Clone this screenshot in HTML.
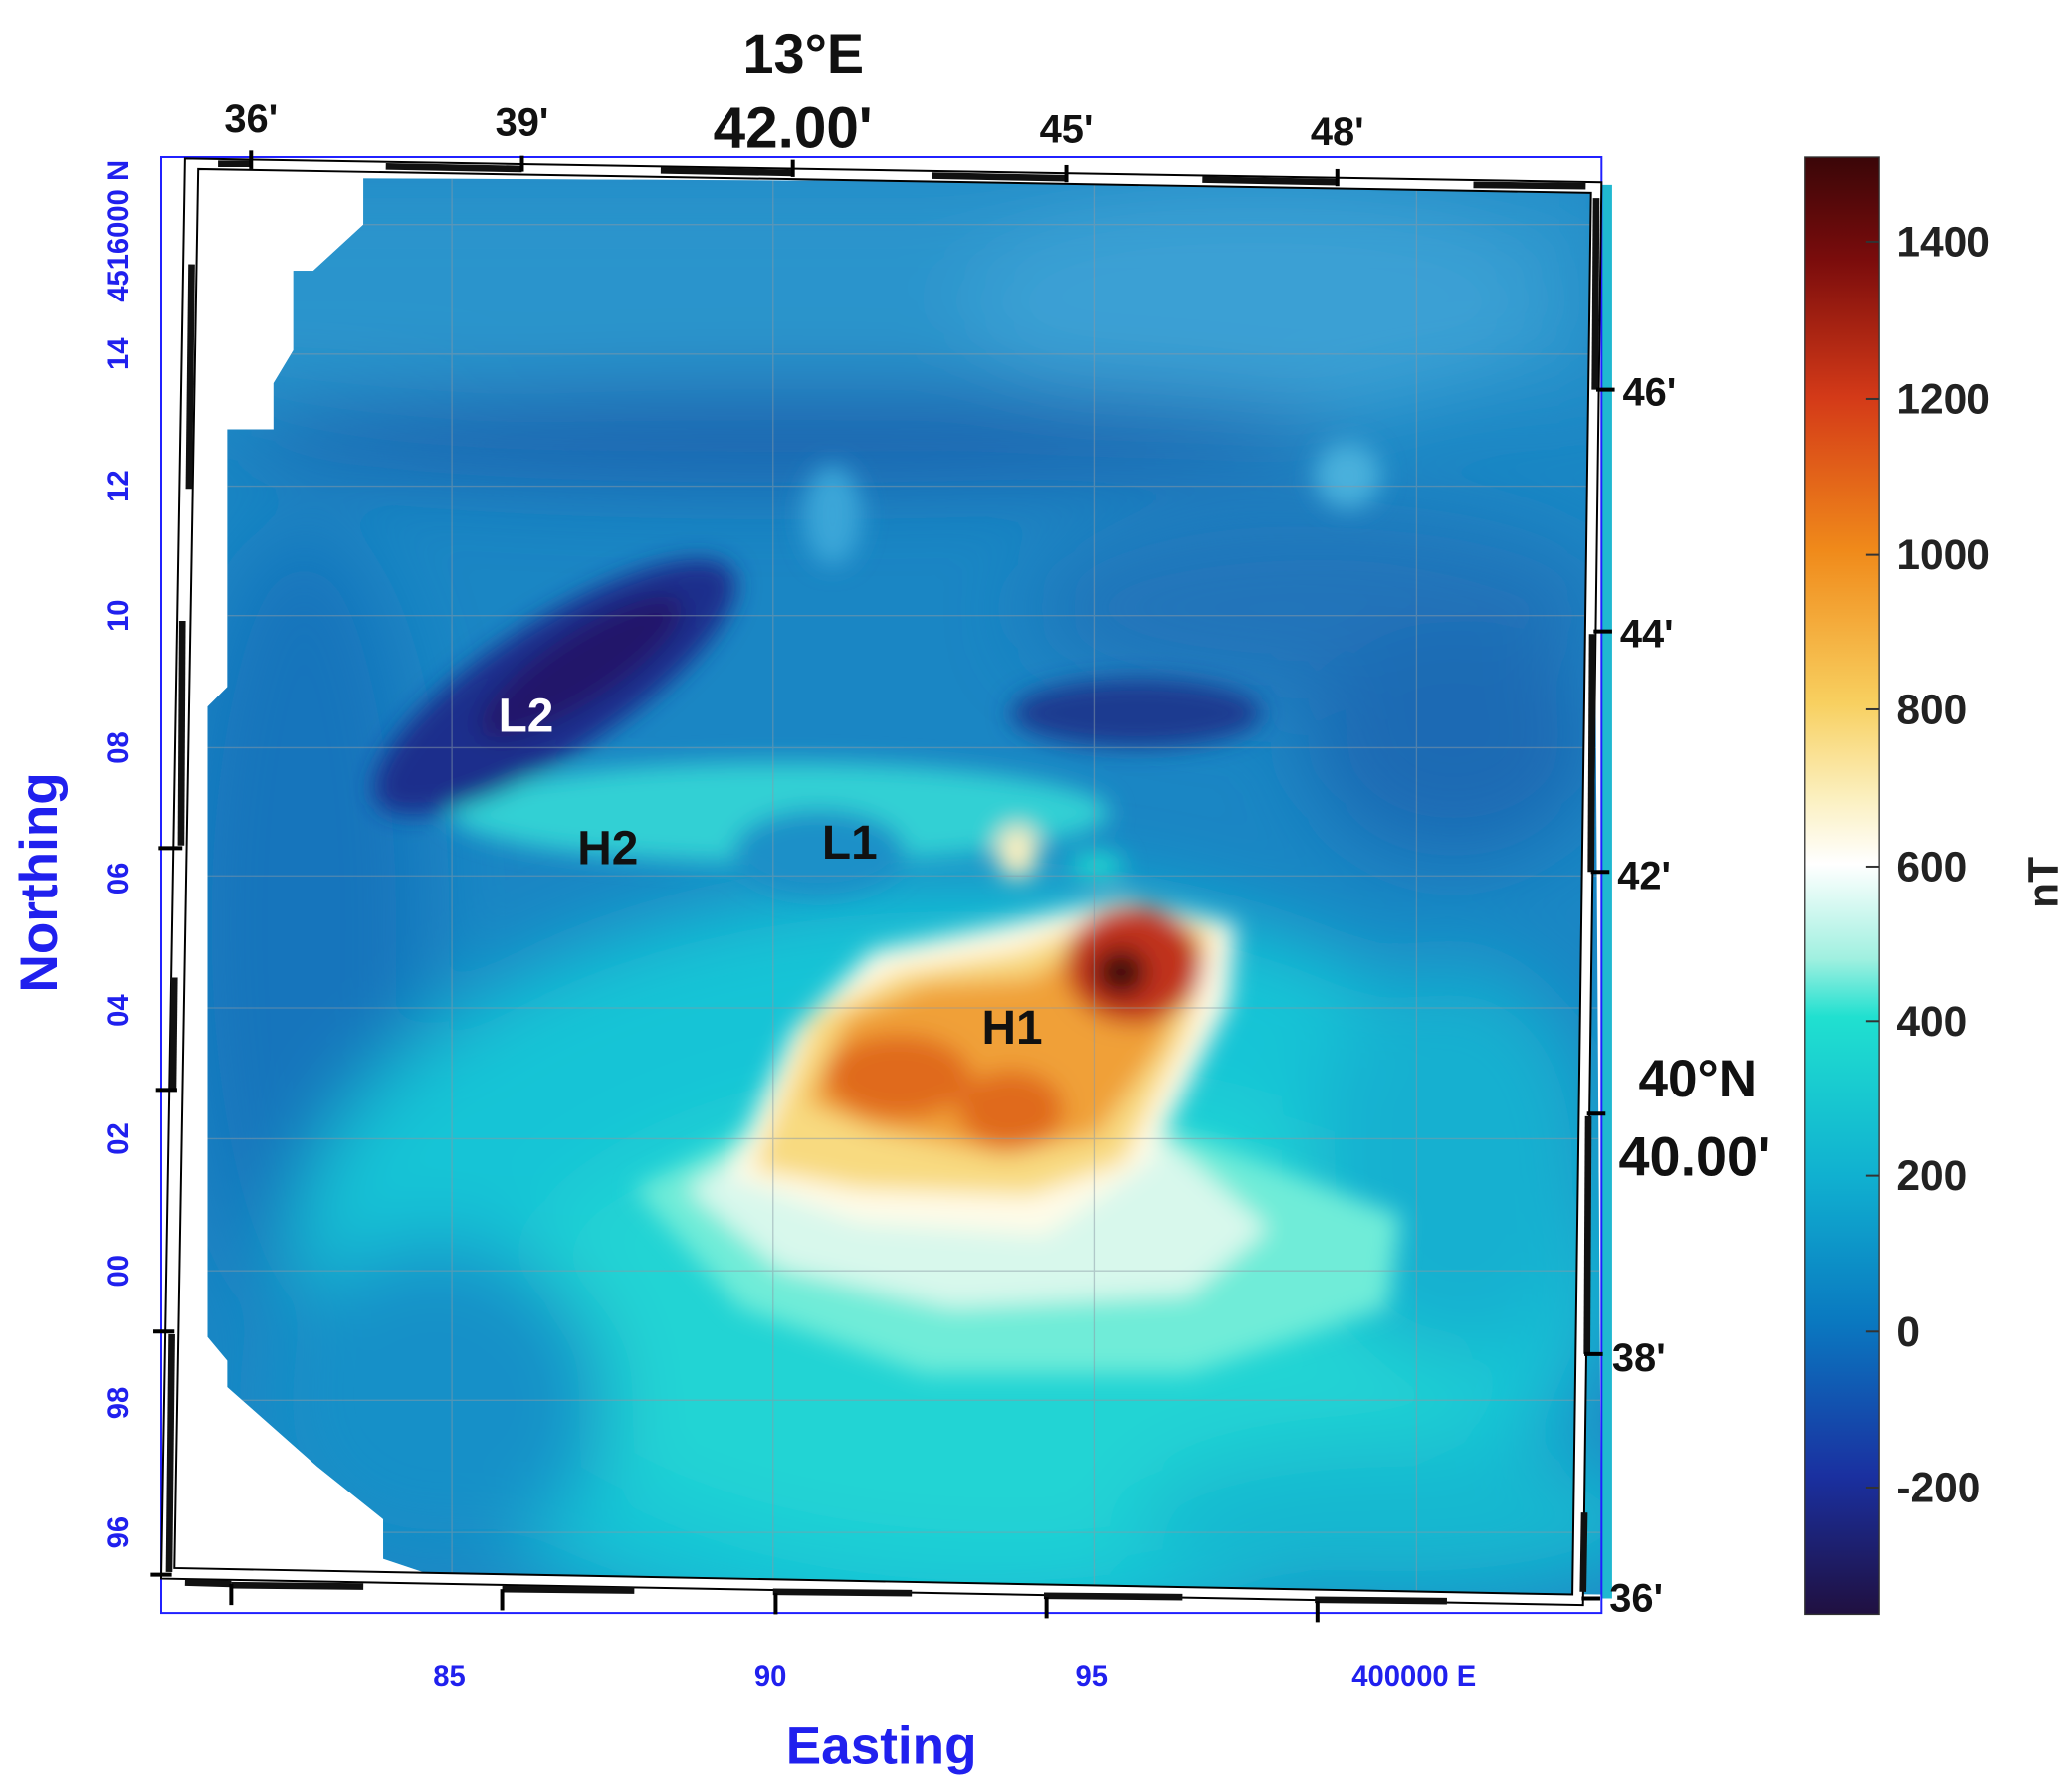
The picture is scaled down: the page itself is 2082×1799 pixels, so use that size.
<!DOCTYPE html>
<html><head><meta charset="utf-8"><style>
html,body{margin:0;padding:0;background:#fff;width:2082px;height:1799px;overflow:hidden}
svg{display:block}
text{font-family:"Liberation Sans",sans-serif}
</style></head><body>
<svg width="2082" height="1799" viewBox="0 0 1568 1355" preserveAspectRatio="none" xmlns="http://www.w3.org/2000/svg">
<defs>
<clipPath id="mc"><path d="M275,135 L1205,140 L1212,1207 L335,1195 L290,1180 L290,1150 L240,1110 L172,1050 L172,1030 L157,1012 L157,800 L157,620 L157,535 L172,520 L172,325 L207,325 L207,290 L222,265 L222,205 L237,205 L275,170 Z"/></clipPath>
<filter id="b2" x="-50%" y="-50%" width="200%" height="200%"><feGaussianBlur stdDeviation="9"/></filter>
<filter id="b3" x="-50%" y="-50%" width="200%" height="200%"><feGaussianBlur stdDeviation="30"/></filter>
<linearGradient id="cb" x1="0" y1="0" x2="0" y2="1">
<stop offset="0" stop-color="#3a0608"/>
<stop offset="0.07" stop-color="#7a0c0c"/>
<stop offset="0.165" stop-color="#d43a18"/>
<stop offset="0.27" stop-color="#f08a1a"/>
<stop offset="0.375" stop-color="#f8d060"/>
<stop offset="0.44" stop-color="#fbf0c0"/>
<stop offset="0.485" stop-color="#ffffff"/>
<stop offset="0.55" stop-color="#a0f0e0"/>
<stop offset="0.59" stop-color="#20e0d0"/>
<stop offset="0.70" stop-color="#10b0d0"/>
<stop offset="0.80" stop-color="#0a78c0"/>
<stop offset="0.905" stop-color="#1a30a0"/>
<stop offset="1" stop-color="#201040"/>
</linearGradient>
</defs>

<g clip-path="url(#mc)">
<rect x="120" y="120" width="1100" height="1110" fill="#1a86c4"/>
<g filter="url(#b3)">
<rect x="150" y="130" width="1070" height="170" fill="#2a94cc"/>
<ellipse cx="950" cy="230" rx="220" ry="90" fill="#3aa0d4"/>
<ellipse cx="600" cy="330" rx="420" ry="35" fill="#1a62ae"/>
<ellipse cx="230" cy="700" rx="90" ry="300" fill="#1474bc"/>
<ellipse cx="1000" cy="460" rx="220" ry="70" fill="#2274ba"/>
<ellipse cx="1100" cy="560" rx="110" ry="90" fill="#1e6ab4"/>
<ellipse cx="720" cy="960" rx="500" ry="290" fill="#18c4d6"/>
<ellipse cx="760" cy="1000" rx="380" ry="180" fill="#20d4d4"/>
<ellipse cx="330" cy="1060" rx="130" ry="120" fill="#1890c8"/>
<ellipse cx="1100" cy="880" rx="110" ry="150" fill="#12b0d0"/>
<ellipse cx="1060" cy="1150" rx="200" ry="60" fill="#12b8d0"/>
</g>
<g filter="url(#b2)">
<ellipse cx="590" cy="615" rx="250" ry="38" fill="#30d0d4"/>
<ellipse cx="420" cy="520" rx="160" ry="50" transform="rotate(-33 420 520)" fill="#1a2e8c"/>
<ellipse cx="440" cy="505" rx="90" ry="26" transform="rotate(-33 440 505)" fill="#22186a"/>
<ellipse cx="860" cy="540" rx="95" ry="26" fill="#1a3a90"/>
<ellipse cx="620" cy="645" rx="65" ry="32" fill="#1a90c8"/>
<ellipse cx="1020" cy="360" rx="25" ry="25" fill="#4ab0dc"/>
<ellipse cx="630" cy="390" rx="22" ry="38" fill="#3aa6d8"/>
<path d="M480,900 L560,860 L900,860 L1060,920 L1050,990 L900,1040 L700,1040 L560,990 Z" fill="#70ecd8"/>
<path d="M520,900 L580,860 L880,860 L960,930 L900,980 L720,990 L590,960 Z" fill="#d8f8ec"/>
<path d="M550,890 L600,780 L660,720 L760,700 L850,680 L935,700 L930,760 L870,880 L790,935 L650,925 Z" fill="#fffbe8"/>
<path d="M570,885 L615,770 L680,735 L770,720 L860,685 L918,705 L900,780 L850,880 L780,905 L650,900 Z" fill="#f8da80"/>
<path d="M610,835 L640,770 L700,745 L780,740 L850,700 L905,712 L880,790 L830,860 L760,875 L660,855 Z" fill="#f0a038"/>
<ellipse cx="680" cy="815" rx="55" ry="32" fill="#e06a1c"/>
<ellipse cx="765" cy="840" rx="40" ry="30" fill="#e06a1c"/>
<ellipse cx="858" cy="730" rx="52" ry="45" fill="#c0301a"/>
<ellipse cx="848" cy="736" rx="20" ry="18" fill="#3a0808"/>
<ellipse cx="770" cy="645" rx="16" ry="20" fill="#fbf0c0"/>
<ellipse cx="830" cy="655" rx="20" ry="10" fill="#20d8d0"/>
</g>
<g stroke="#8a9aa6" stroke-width="1" opacity="0.5">
<line x1="342" y1="120" x2="342" y2="1220"/><line x1="585" y1="120" x2="585" y2="1220"/><line x1="828" y1="120" x2="828" y2="1220"/><line x1="1072" y1="120" x2="1072" y2="1220"/>
<line x1="120" y1="170" x2="1220" y2="170"/><line x1="120" y1="268" x2="1220" y2="268"/><line x1="120" y1="368" x2="1220" y2="368"/><line x1="120" y1="466" x2="1220" y2="466"/><line x1="120" y1="566" x2="1220" y2="566"/><line x1="120" y1="663" x2="1220" y2="663"/><line x1="120" y1="763" x2="1220" y2="763"/><line x1="120" y1="862" x2="1220" y2="862"/><line x1="120" y1="962" x2="1220" y2="962"/><line x1="120" y1="1060" x2="1220" y2="1060"/><line x1="120" y1="1160" x2="1220" y2="1160"/>
</g>
</g>
<rect x="1212" y="140" width="8" height="1070" fill="#20b8d0"/>

<rect x="122" y="119" width="1090" height="1102" fill="none" stroke="#2020ff" stroke-width="1.5"/>
<path d="M140,120 L1212,138 L1198,1215 L122,1195 Z M150,128 L132,1187 L1190,1207 L1204,146 Z" fill="#fff" fill-rule="evenodd" stroke="#000" stroke-width="1.5"/>
<g stroke="#111" stroke-width="5">
<line x1="165" y1="124" x2="190" y2="124"/><line x1="292" y1="126" x2="395" y2="128"/><line x1="500" y1="129" x2="600" y2="131"/><line x1="705" y1="133" x2="807" y2="135"/><line x1="910" y1="136" x2="1012" y2="138"/><line x1="1115" y1="140" x2="1200" y2="141"/>
<line x1="1208" y1="150" x2="1207" y2="295"/><line x1="1205" y1="480" x2="1204" y2="660"/><line x1="1202" y1="845" x2="1201" y2="1025"/><line x1="1199" y1="1145" x2="1198" y2="1205"/>
<line x1="145" y1="200" x2="143" y2="370"/><line x1="138" y1="470" x2="137" y2="640"/><line x1="132" y1="740" x2="131" y2="825"/><line x1="130" y1="1010" x2="128" y2="1190"/>
<line x1="140" y1="1198" x2="175" y2="1199"/><line x1="175" y1="1200" x2="275" y2="1201"/><line x1="380" y1="1203" x2="480" y2="1204"/><line x1="585" y1="1205" x2="690" y2="1206"/><line x1="790" y1="1208" x2="895" y2="1209"/><line x1="995" y1="1211" x2="1095" y2="1212"/>
</g>
<g stroke="#000" stroke-width="3">
<line x1="190" y1="114" x2="190" y2="128"/><line x1="395" y1="118" x2="395" y2="130"/><line x1="600" y1="121" x2="600" y2="134"/><line x1="807" y1="125" x2="807" y2="138"/><line x1="1012" y1="128" x2="1012" y2="141"/>
<line x1="1208" y1="295" x2="1222" y2="295"/><line x1="1206" y1="478" x2="1220" y2="478"/><line x1="1204" y1="660" x2="1218" y2="660"/><line x1="1201" y1="843" x2="1215" y2="843"/><line x1="1199" y1="1025" x2="1213" y2="1025"/><line x1="1197" y1="1210" x2="1211" y2="1210"/>
<line x1="120" y1="642" x2="138" y2="642"/><line x1="118" y1="825" x2="134" y2="825"/><line x1="116" y1="1008" x2="132" y2="1008"/><line x1="114" y1="1192" x2="130" y2="1192"/>
<line x1="175" y1="1199" x2="175" y2="1215"/><line x1="380" y1="1203" x2="380" y2="1219"/><line x1="587" y1="1206" x2="587" y2="1222"/><line x1="792" y1="1209" x2="792" y2="1225"/><line x1="997" y1="1212" x2="997" y2="1228"/>
</g>

<g font-size="30" fill="#111" text-anchor="middle" font-weight="bold">
<text x="190" y="100">36'</text><text x="395" y="103">39'</text><text x="807" y="108">45'</text><text x="1012" y="110">48'</text>
</g>
<text x="608" y="55" font-size="42" font-weight="bold" text-anchor="middle" fill="#111">13°E</text>
<text x="600" y="112" font-size="44" font-weight="bold" text-anchor="middle" fill="#111">42.00'</text>
<g font-size="30" fill="#111" font-weight="bold">
<text x="1228" y="307">46'</text><text x="1226" y="490">44'</text><text x="1224" y="673">42'</text><text x="1220" y="1038">38'</text><text x="1218" y="1220">36'</text>
</g>
<text x="1240" y="830" font-size="40" font-weight="bold" fill="#111">40°N</text>
<text x="1225" y="890" font-size="42" font-weight="bold" fill="#111">40.00'</text>

<g font-size="22" fill="#2020ee" text-anchor="middle" font-weight="bold">
<text transform="translate(97,175) rotate(-90)">4516000 N</text>
<text transform="translate(97,268) rotate(-90)">14</text>
<text transform="translate(97,368) rotate(-90)">12</text>
<text transform="translate(97,466) rotate(-90)">10</text>
<text transform="translate(97,566) rotate(-90)">08</text>
<text transform="translate(97,665) rotate(-90)">06</text>
<text transform="translate(97,765) rotate(-90)">04</text>
<text transform="translate(97,862) rotate(-90)">02</text>
<text transform="translate(97,962) rotate(-90)">00</text>
<text transform="translate(97,1062) rotate(-90)">98</text>
<text transform="translate(97,1160) rotate(-90)">96</text>
</g>
<text transform="translate(43,668) rotate(-90)" font-size="40" font-weight="bold" fill="#2020ee" text-anchor="middle">Northing</text>
<g font-size="22" fill="#2020ee" text-anchor="middle" font-weight="bold">
<text x="340" y="1276">85</text><text x="583" y="1276">90</text><text x="826" y="1276">95</text><text x="1070" y="1276">400000 E</text>
</g>
<text x="667" y="1335" font-size="40" font-weight="bold" fill="#2020ee" text-anchor="middle">Easting</text>

<g font-size="36" font-weight="bold" text-anchor="middle">
<text x="398" y="554" fill="#fff">L2</text>
<text x="460" y="654" fill="#111">H2</text>
<text x="643" y="650" fill="#111">L1</text>
<text x="766" y="790" fill="#111">H1</text>
</g>

<rect x="1366" y="119" width="56" height="1103" fill="url(#cb)" stroke="#333" stroke-width="1"/>
<g stroke="#333" stroke-width="1.5">
<line x1="1412" y1="183" x2="1422" y2="183"/><line x1="1412" y1="302" x2="1422" y2="302"/><line x1="1412" y1="420" x2="1422" y2="420"/><line x1="1412" y1="537" x2="1422" y2="537"/><line x1="1412" y1="656" x2="1422" y2="656"/><line x1="1412" y1="773" x2="1422" y2="773"/><line x1="1412" y1="890" x2="1422" y2="890"/><line x1="1412" y1="1008" x2="1422" y2="1008"/><line x1="1412" y1="1126" x2="1422" y2="1126"/>
</g>
<g font-size="32" fill="#222" font-weight="bold">
<text x="1435" y="194">1400</text><text x="1435" y="313">1200</text><text x="1435" y="431">1000</text><text x="1435" y="548">800</text><text x="1435" y="667">600</text><text x="1435" y="784">400</text><text x="1435" y="901">200</text><text x="1435" y="1019">0</text><text x="1435" y="1137">-200</text>
</g>
<text transform="translate(1557,668) rotate(-90)" font-size="32" font-weight="bold" fill="#222" text-anchor="middle">nT</text>
</svg>
</body></html>
